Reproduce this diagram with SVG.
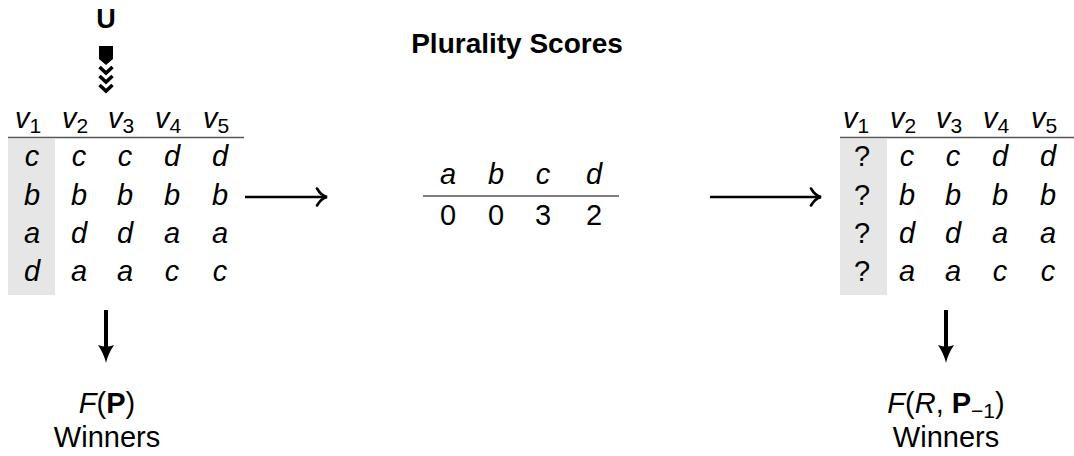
<svg xmlns="http://www.w3.org/2000/svg" width="1074" height="456" viewBox="0 0 1074 456">
<style>
text{font-family:"Liberation Sans",Arial,sans-serif;fill:#000;text-anchor:middle}
.it{font-style:italic;font-size:29px}
.rm{font-size:29px}
.sub{font-size:21px;font-style:normal}
.q{font-family:"Liberation Serif",serif;font-size:29px}
.b{font-weight:bold}
.rule{stroke:#555;stroke-width:1.5}
.shade{fill:#e6e6e6}
.conn{stroke:#000;fill:none}
</style>
<defs>
<marker id="ah" viewBox="0 0 14 20" refX="12" refY="10" markerWidth="14" markerHeight="20" orient="auto" markerUnits="userSpaceOnUse">
<path d="M2,1.5 Q6,8.5 12,10 Q6,11.5 2,18.5" fill="none" stroke="#000" stroke-width="2.6" stroke-linecap="round"/>
</marker>
<marker id="ahd" viewBox="0 0 18 18" refX="7" refY="9" markerWidth="18" markerHeight="18" orient="auto" markerUnits="userSpaceOnUse">
<path d="M0,1 Q9,7 18,9 Q9,11 0,17 Q3,9 0,1 Z" fill="#000"/>
</marker>
</defs>
<rect width="1074" height="456" fill="#fff"/>

<g id="title"><text x="517" y="53" class="b" font-size="28">Plurality Scores</text></g>

<g id="update">
<text x="106" y="28" class="b" font-size="27">U</text>
<path d="M99,46 H113 V59 L106,65 L99,59 Z" fill="#000"/>
<path d="M99.5,67 L106,73 L112.5,67 M99.5,76 L106,82 L112.5,76 M99.5,85 L106,91 L112.5,85" fill="none" stroke="#000" stroke-width="3.6"/>
</g>

<g id="profile-left">
<rect class="shade" x="8" y="139" width="47" height="156"/>
<text class="it" x="28" y="128">v<tspan class="sub" dy="5">1</tspan></text>
<text class="it" x="75" y="128">v<tspan class="sub" dy="5">2</tspan></text>
<text class="it" x="121" y="128">v<tspan class="sub" dy="5">3</tspan></text>
<text class="it" x="168" y="128">v<tspan class="sub" dy="5">4</tspan></text>
<text class="it" x="216" y="128">v<tspan class="sub" dy="5">5</tspan></text>
<line class="rule" x1="8" y1="137.5" x2="244" y2="137.5"/>
<g class="it">
<text x="32" y="166">c</text><text x="79" y="166">c</text><text x="125" y="166">c</text><text x="172" y="166">d</text><text x="220" y="166">d</text>
<text x="32" y="205">b</text><text x="79" y="205">b</text><text x="125" y="205">b</text><text x="172" y="205">b</text><text x="220" y="205">b</text>
<text x="32" y="243">a</text><text x="79" y="243">d</text><text x="125" y="243">d</text><text x="172" y="243">a</text><text x="220" y="243">a</text>
<text x="32" y="281">d</text><text x="79" y="281">a</text><text x="125" y="281">a</text><text x="172" y="281">c</text><text x="220" y="281">c</text>
</g>
</g>

<g id="scores">
<g class="it">
<text x="448" y="184">a</text><text x="496" y="184">b</text><text x="543" y="184">c</text><text x="594" y="184">d</text>
</g>
<line class="rule" x1="423" y1="196" x2="619" y2="196"/>
<g class="rm">
<text x="448" y="225">0</text><text x="496" y="225">0</text><text x="543" y="225">3</text><text x="594" y="225">2</text>
</g>
</g>

<g id="profile-right">
<rect class="shade" x="840" y="139" width="47" height="156"/>
<text class="it" x="856" y="128">v<tspan class="sub" dy="5">1</tspan></text>
<text class="it" x="903" y="128">v<tspan class="sub" dy="5">2</tspan></text>
<text class="it" x="949" y="128">v<tspan class="sub" dy="5">3</tspan></text>
<text class="it" x="996" y="128">v<tspan class="sub" dy="5">4</tspan></text>
<text class="it" x="1044" y="128">v<tspan class="sub" dy="5">5</tspan></text>
<line class="rule" x1="840" y1="137.5" x2="1074" y2="137.5"/>
<g class="q">
<text x="862" y="166">?</text><text x="862" y="205">?</text><text x="862" y="243">?</text><text x="862" y="281">?</text>
</g>
<g class="it">
<text x="907" y="166">c</text><text x="953" y="166">c</text><text x="1000" y="166">d</text><text x="1048" y="166">d</text>
<text x="907" y="205">b</text><text x="953" y="205">b</text><text x="1000" y="205">b</text><text x="1048" y="205">b</text>
<text x="907" y="243">d</text><text x="953" y="243">d</text><text x="1000" y="243">a</text><text x="1048" y="243">a</text>
<text x="907" y="281">a</text><text x="953" y="281">a</text><text x="1000" y="281">c</text><text x="1048" y="281">c</text>
</g>
</g>

<g id="winners-left">
<text x="107" y="413" font-size="29"><tspan font-style="italic">F</tspan>(<tspan font-weight="bold">P</tspan>)</text>
<text x="107" y="447" font-size="29">Winners</text>
</g>

<g id="winners-right">
<text x="946" y="413" font-size="29"><tspan font-style="italic">F</tspan>(<tspan font-style="italic">R</tspan>, <tspan font-weight="bold">P</tspan><tspan font-size="21" dy="5">−1</tspan><tspan dy="-5">)</tspan></text>
<text x="946" y="447" font-size="29">Winners</text>
</g>

<g id="connectors">
<line class="conn" x1="245" y1="197" x2="327" y2="197" stroke-width="2.5" marker-end="url(#ah)"/>
<line class="conn" x1="710" y1="197" x2="821" y2="197" stroke-width="2.5" marker-end="url(#ah)"/>
<line class="conn" x1="106" y1="310" x2="106" y2="352" stroke-width="4" marker-end="url(#ahd)"/>
<line class="conn" x1="946" y1="310" x2="946" y2="352" stroke-width="4" marker-end="url(#ahd)"/>
</g>
</svg>
